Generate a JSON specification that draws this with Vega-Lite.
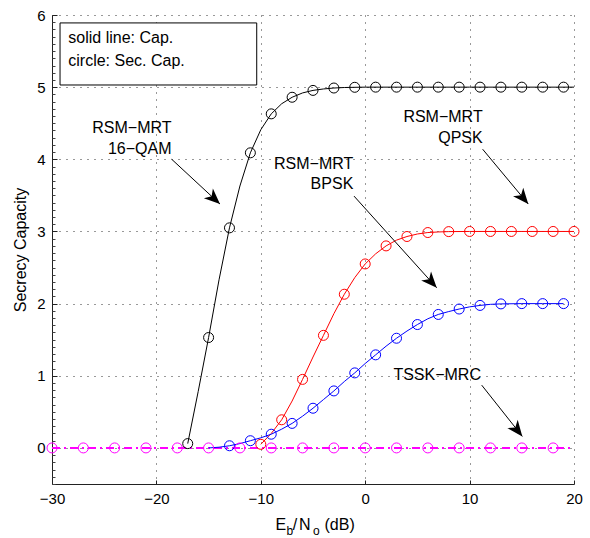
{
  "$schema": "https://vega.github.io/schema/vega-lite/v6.json",
  "width": 522,
  "height": 469,
  "autosize": {"type": "none"},
  "padding": {"left": 52, "top": 15, "right": 16, "bottom": 54},
  "background": "white",
  "config": {
    "font": "Liberation Sans",
    "view": {"stroke": null},
    "text": {"font": "Liberation Sans", "fontSize": 16, "color": "black"}
  },
  "resolve": {"axis": {"y": "independent"}},
  "datasets": {
    "cap": [
      {"s": "16-QAM", "x": -17, "y": 0.06}, {"s": "16-QAM", "x": -16, "y": 0.78}, {"s": "16-QAM", "x": -15, "y": 1.53},
      {"s": "16-QAM", "x": -14, "y": 2.33}, {"s": "16-QAM", "x": -13, "y": 3.05}, {"s": "16-QAM", "x": -12, "y": 3.63},
      {"s": "16-QAM", "x": -11, "y": 4.09}, {"s": "16-QAM", "x": -10, "y": 4.41}, {"s": "16-QAM", "x": -9, "y": 4.63},
      {"s": "16-QAM", "x": -8, "y": 4.77}, {"s": "16-QAM", "x": -7, "y": 4.86}, {"s": "16-QAM", "x": -6, "y": 4.92},
      {"s": "16-QAM", "x": -5, "y": 4.955}, {"s": "16-QAM", "x": -4, "y": 4.975}, {"s": "16-QAM", "x": -3, "y": 4.988},
      {"s": "16-QAM", "x": -2, "y": 4.995}, {"s": "16-QAM", "x": -1, "y": 4.998}, {"s": "16-QAM", "x": 0, "y": 5},
      {"s": "16-QAM", "x": 5, "y": 5}, {"s": "16-QAM", "x": 10, "y": 5}, {"s": "16-QAM", "x": 15, "y": 5}, {"s": "16-QAM", "x": 20, "y": 5},
      {"s": "QPSK", "x": -10, "y": 0.05}, {"s": "QPSK", "x": -9, "y": 0.2}, {"s": "QPSK", "x": -8, "y": 0.39},
      {"s": "QPSK", "x": -7, "y": 0.65}, {"s": "QPSK", "x": -6, "y": 0.95}, {"s": "QPSK", "x": -5, "y": 1.26},
      {"s": "QPSK", "x": -4, "y": 1.56}, {"s": "QPSK", "x": -3, "y": 1.86}, {"s": "QPSK", "x": -2, "y": 2.13},
      {"s": "QPSK", "x": -1, "y": 2.36}, {"s": "QPSK", "x": 0, "y": 2.55}, {"s": "QPSK", "x": 1, "y": 2.69},
      {"s": "QPSK", "x": 2, "y": 2.8}, {"s": "QPSK", "x": 3, "y": 2.88}, {"s": "QPSK", "x": 4, "y": 2.93},
      {"s": "QPSK", "x": 5, "y": 2.965}, {"s": "QPSK", "x": 6, "y": 2.985}, {"s": "QPSK", "x": 7, "y": 2.993},
      {"s": "QPSK", "x": 8, "y": 2.998}, {"s": "QPSK", "x": 10, "y": 3}, {"s": "QPSK", "x": 15, "y": 3}, {"s": "QPSK", "x": 20, "y": 3},
      {"s": "BPSK", "x": -15, "y": 0}, {"s": "BPSK", "x": -14, "y": 0.01}, {"s": "BPSK", "x": -13, "y": 0.03},
      {"s": "BPSK", "x": -12, "y": 0.06}, {"s": "BPSK", "x": -11, "y": 0.1}, {"s": "BPSK", "x": -10, "y": 0.14},
      {"s": "BPSK", "x": -9, "y": 0.19}, {"s": "BPSK", "x": -8, "y": 0.26}, {"s": "BPSK", "x": -7, "y": 0.34},
      {"s": "BPSK", "x": -6, "y": 0.44}, {"s": "BPSK", "x": -5, "y": 0.55}, {"s": "BPSK", "x": -4, "y": 0.67},
      {"s": "BPSK", "x": -3, "y": 0.79}, {"s": "BPSK", "x": -2, "y": 0.92}, {"s": "BPSK", "x": -1, "y": 1.04},
      {"s": "BPSK", "x": 0, "y": 1.17}, {"s": "BPSK", "x": 1, "y": 1.29}, {"s": "BPSK", "x": 2, "y": 1.41},
      {"s": "BPSK", "x": 3, "y": 1.52}, {"s": "BPSK", "x": 4, "y": 1.62}, {"s": "BPSK", "x": 5, "y": 1.71},
      {"s": "BPSK", "x": 6, "y": 1.79}, {"s": "BPSK", "x": 7, "y": 1.85}, {"s": "BPSK", "x": 8, "y": 1.89},
      {"s": "BPSK", "x": 9, "y": 1.925}, {"s": "BPSK", "x": 10, "y": 1.955}, {"s": "BPSK", "x": 11, "y": 1.975},
      {"s": "BPSK", "x": 12, "y": 1.99}, {"s": "BPSK", "x": 13, "y": 1.996}, {"s": "BPSK", "x": 15, "y": 2},
      {"s": "BPSK", "x": 17, "y": 2}, {"s": "BPSK", "x": 19, "y": 2}
    ],
    "tssk": [
      {"s": "TSSK", "x": -30, "y": 0}, {"s": "TSSK", "x": 20, "y": 0}
    ],
    "sec": [
      {"s": "16-QAM", "x": -17, "y": 0.06}, {"s": "16-QAM", "x": -15, "y": 1.53}, {"s": "16-QAM", "x": -13, "y": 3.05},
      {"s": "16-QAM", "x": -11, "y": 4.09}, {"s": "16-QAM", "x": -9, "y": 4.63}, {"s": "16-QAM", "x": -7, "y": 4.86},
      {"s": "16-QAM", "x": -5, "y": 4.955}, {"s": "16-QAM", "x": -3, "y": 4.988}, {"s": "16-QAM", "x": -1, "y": 4.998},
      {"s": "16-QAM", "x": 1, "y": 5}, {"s": "16-QAM", "x": 3, "y": 5}, {"s": "16-QAM", "x": 5, "y": 5},
      {"s": "16-QAM", "x": 7, "y": 5}, {"s": "16-QAM", "x": 9, "y": 5}, {"s": "16-QAM", "x": 11, "y": 5},
      {"s": "16-QAM", "x": 13, "y": 5}, {"s": "16-QAM", "x": 15, "y": 5}, {"s": "16-QAM", "x": 17, "y": 5}, {"s": "16-QAM", "x": 19, "y": 5},
      {"s": "QPSK", "x": -10, "y": 0.05}, {"s": "QPSK", "x": -8, "y": 0.39}, {"s": "QPSK", "x": -6, "y": 0.95},
      {"s": "QPSK", "x": -4, "y": 1.56}, {"s": "QPSK", "x": -2, "y": 2.13}, {"s": "QPSK", "x": 0, "y": 2.55},
      {"s": "QPSK", "x": 2, "y": 2.8}, {"s": "QPSK", "x": 4, "y": 2.93}, {"s": "QPSK", "x": 6, "y": 2.985},
      {"s": "QPSK", "x": 8, "y": 2.998}, {"s": "QPSK", "x": 10, "y": 3}, {"s": "QPSK", "x": 12, "y": 3},
      {"s": "QPSK", "x": 14, "y": 3}, {"s": "QPSK", "x": 16, "y": 3}, {"s": "QPSK", "x": 18, "y": 3}, {"s": "QPSK", "x": 20, "y": 3},
      {"s": "BPSK", "x": -13, "y": 0.03}, {"s": "BPSK", "x": -11, "y": 0.1}, {"s": "BPSK", "x": -9, "y": 0.19},
      {"s": "BPSK", "x": -7, "y": 0.34}, {"s": "BPSK", "x": -5, "y": 0.55}, {"s": "BPSK", "x": -3, "y": 0.79},
      {"s": "BPSK", "x": -1, "y": 1.04}, {"s": "BPSK", "x": 1, "y": 1.29}, {"s": "BPSK", "x": 3, "y": 1.52},
      {"s": "BPSK", "x": 5, "y": 1.71}, {"s": "BPSK", "x": 7, "y": 1.85}, {"s": "BPSK", "x": 9, "y": 1.925},
      {"s": "BPSK", "x": 11, "y": 1.975}, {"s": "BPSK", "x": 13, "y": 1.996}, {"s": "BPSK", "x": 15, "y": 2},
      {"s": "BPSK", "x": 17, "y": 2}, {"s": "BPSK", "x": 19, "y": 2},
      {"s": "TSSK", "x": -30, "y": 0}, {"s": "TSSK", "x": -27, "y": 0}, {"s": "TSSK", "x": -24, "y": 0},
      {"s": "TSSK", "x": -21, "y": 0}, {"s": "TSSK", "x": -18, "y": 0}, {"s": "TSSK", "x": -15, "y": 0},
      {"s": "TSSK", "x": -12, "y": 0}, {"s": "TSSK", "x": -9, "y": 0}, {"s": "TSSK", "x": -6, "y": 0},
      {"s": "TSSK", "x": -3, "y": 0}, {"s": "TSSK", "x": 0, "y": 0}, {"s": "TSSK", "x": 3, "y": 0},
      {"s": "TSSK", "x": 6, "y": 0}, {"s": "TSSK", "x": 9, "y": 0}, {"s": "TSSK", "x": 12, "y": 0},
      {"s": "TSSK", "x": 15, "y": 0}, {"s": "TSSK", "x": 18, "y": 0}
    ],
    "arrows": [
      {"x": -18.53, "y": 4.0, "x2": -13.91, "y2": 3.38, "a": 42.8},
      {"x": 11.25, "y": 4.14, "x2": 15.62, "y2": 3.38, "a": 50.2},
      {"x": -1.07, "y": 3.49, "x2": 6.85, "y2": 2.22, "a": 47.9},
      {"x": 11.16, "y": 0.87, "x2": 15.05, "y2": 0.16, "a": 51.6}
    ],
    "labels": [
      {"t": "RSM−MRT", "x": -18.55, "y": 4.43},
      {"t": "16−QAM", "x": -18.55, "y": 4.137},
      {"t": "RSM−MRT", "x": 11.25, "y": 4.58},
      {"t": "QPSK", "x": 11.25, "y": 4.29},
      {"t": "RSM−MRT", "x": -1.14, "y": 3.93},
      {"t": "BPSK", "x": -1.14, "y": 3.66},
      {"t": "TSSK−MRC", "x": 11.09, "y": 1.017}
    ],
    "box": [{"x": -29.23, "x2": -10.39, "y": 5.89, "y2": 5.03}],
    "note": [
      {"t": "solid line: Cap.", "x": -28.44, "y": 5.677},
      {"t": "circle: Sec. Cap.", "x": -28.44, "y": 5.366}
    ],
    "xtitle": [
      {"t": "E", "x": -8.6, "sub": 0},
      {"t": "b", "x": -7.55, "sub": 1},
      {"t": "/", "x": -6.93, "sub": 0},
      {"t": "N", "x": -6.35, "sub": 0},
      {"t": "o", "x": -5.0, "sub": 1},
      {"t": "(dB)", "x": -3.9, "sub": 0}
    ]
  },
  "layer": [
    {
      "data": {"name": "box"},
      "mark": {"type": "rect", "fill": "white", "stroke": "black", "strokeWidth": 1},
      "encoding": {
        "x": {
          "field": "x", "type": "quantitative",
          "scale": {"domain": [-30, 20], "nice": false, "zero": false},
          "axis": {
            "values": [-30, -20, -10, 0, 10, 20],
            "title": null,
            "grid": true, "gridColor": "#333", "gridDash": [1, 6], "gridWidth": 1,
            "domainColor": "#222", "domainWidth": 1,
            "tickColor": "#222", "tickSize": -4, "tickWidth": 1,
            "labelFont": "Liberation Sans", "labelFontSize": 15, "labelColor": "black",
            "labelPadding": 11, "labelFlush": false
          }
        },
        "x2": {"field": "x2"},
        "y": {
          "field": "y", "type": "quantitative",
          "scale": {"domain": [-0.5, 6], "nice": false, "zero": false},
          "axis": {
            "orient": "left",
            "values": [0, 1, 2, 3, 4, 5, 6],
            "format": "d",
            "title": "Secrecy Capacity",
            "titleFont": "Liberation Sans", "titleFontSize": 16, "titleFontWeight": "normal", "titleColor": "black",
            "titlePadding": 8,
            "grid": true, "gridColor": "#333", "gridDash": [1, 6], "gridWidth": 1,
            "domainColor": "#222", "domainWidth": 1,
            "tickColor": "#222", "tickSize": -5, "tickWidth": 1,
            "labelFont": "Liberation Sans", "labelFontSize": 15, "labelColor": "black",
            "labelPadding": 12, "labelFlush": false, "labelOverlap": false
          }
        },
        "y2": {"field": "y2"}
      }
    },
    {
      "data": {"name": "tssk"},
      "mark": {"type": "line", "strokeWidth": 2, "strokeDash": [8, 4, 2, 4], "color": "#ff00ff"},
      "encoding": {
        "x": {"field": "x", "type": "quantitative"},
        "y": {
          "field": "y", "type": "quantitative",
          "axis": {
            "orient": "left",
            "values": [-0.5, -0.4, -0.3, -0.2, -0.1, 0.1, 0.2, 0.3, 0.4, 0.5, 0.6, 0.7, 0.8, 0.9, 1.1, 1.2, 1.3, 1.4, 1.5, 1.6, 1.7, 1.8, 1.9, 2.1, 2.2, 2.3, 2.4, 2.5, 2.6, 2.7, 2.8, 2.9, 3.1, 3.2, 3.3, 3.4, 3.5, 3.6, 3.7, 3.8, 3.9, 4.1, 4.2, 4.3, 4.4, 4.5, 4.6, 4.7, 4.8, 4.9, 5.1, 5.2, 5.3, 5.4, 5.5, 5.6, 5.7, 5.8, 5.9],
            "labels": false, "grid": false, "domain": false, "title": null,
            "tickColor": "#444", "tickSize": -3, "tickWidth": 1
          }
        }
      }
    },
    {
      "data": {"name": "note"},
      "mark": {"type": "text", "align": "left", "baseline": "middle", "fontSize": 16},
      "encoding": {
        "x": {"field": "x", "type": "quantitative"},
        "y": {"field": "y", "type": "quantitative", "axis": null},
        "text": {"field": "t"}
      }
    },
    {
      "data": {"name": "cap"},
      "mark": {"type": "line", "strokeWidth": 1},
      "encoding": {
        "x": {"field": "x", "type": "quantitative"},
        "y": {"field": "y", "type": "quantitative", "axis": null},
        "color": {"field": "s", "type": "nominal", "legend": null,
          "scale": {"domain": ["16-QAM", "QPSK", "BPSK", "TSSK"], "range": ["#000000", "#ff0000", "#0000ff", "#ff00ff"]}}
      }
    },
    {
      "data": {"name": "sec"},
      "mark": {"type": "point", "shape": "circle", "filled": false, "size": 100, "opacity": 1},
      "encoding": {
        "x": {"field": "x", "type": "quantitative"},
        "y": {"field": "y", "type": "quantitative", "axis": null},
        "color": {"field": "s", "type": "nominal", "legend": null},
        "strokeWidth": {"field": "s", "type": "nominal", "legend": null,
          "scale": {"domain": ["16-QAM", "QPSK", "BPSK", "TSSK"], "range": [1, 1, 1, 1.6]}}
      }
    },
    {
      "data": {"name": "arrows"},
      "mark": {"type": "rule", "color": "black", "strokeWidth": 1},
      "encoding": {
        "x": {"field": "x", "type": "quantitative"},
        "y": {"field": "y", "type": "quantitative", "axis": null},
        "x2": {"field": "x2"},
        "y2": {"field": "y2"}
      }
    },
    {
      "data": {"name": "arrows"},
      "mark": {"type": "point", "shape": "M0,0L-1,-0.42L-0.72,0L-1,0.42Z", "filled": true, "color": "black", "size": 1000, "opacity": 1},
      "encoding": {
        "x": {"field": "x2", "type": "quantitative"},
        "y": {"field": "y2", "type": "quantitative", "axis": null},
        "angle": {"field": "a", "type": "quantitative", "scale": null}
      }
    },
    {
      "data": {"name": "labels"},
      "mark": {"type": "text", "align": "right", "baseline": "middle", "fontSize": 16},
      "encoding": {
        "x": {"field": "x", "type": "quantitative"},
        "y": {"field": "y", "type": "quantitative", "axis": null},
        "text": {"field": "t"}
      }
    },
    {
      "data": {"name": "xtitle"},
      "transform": [{"filter": "datum.sub == 0"}],
      "mark": {"type": "text", "align": "left", "baseline": "alphabetic", "fontSize": 16, "dy": 46},
      "encoding": {
        "x": {"field": "x", "type": "quantitative"},
        "y": {"datum": -0.5, "type": "quantitative", "axis": null},
        "text": {"field": "t"}
      }
    },
    {
      "data": {"name": "xtitle"},
      "transform": [{"filter": "datum.sub == 1"}],
      "mark": {"type": "text", "align": "left", "baseline": "alphabetic", "fontSize": 12, "dy": 51},
      "encoding": {
        "x": {"field": "x", "type": "quantitative"},
        "y": {"datum": -0.5, "type": "quantitative", "axis": null},
        "text": {"field": "t"}
      }
    }
  ]
}
